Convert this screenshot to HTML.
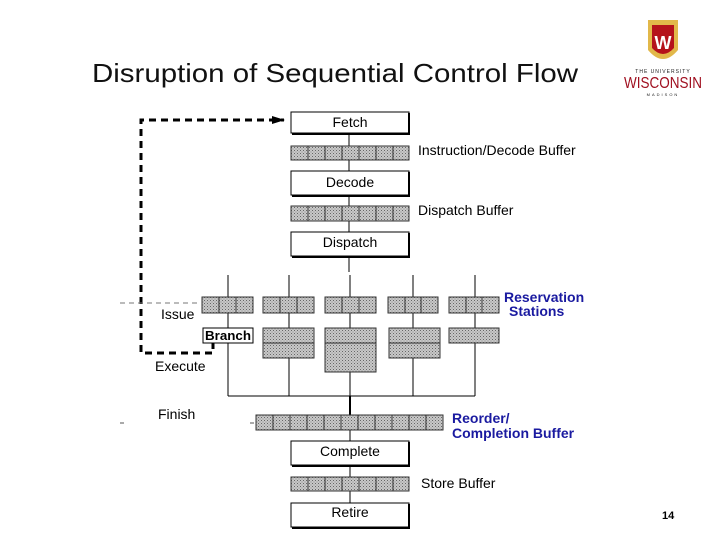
<!DOCTYPE html>
<html><head><meta charset="utf-8"><style>
body{margin:0;background:#fff;width:720px;height:540px;overflow:hidden}
svg{display:block}
text{font-family:"Liberation Sans",sans-serif}
</style></head><body>
<svg width="720" height="540" viewBox="0 0 720 540" xmlns="http://www.w3.org/2000/svg">
<defs>
<pattern id="hat" width="3" height="3" patternUnits="userSpaceOnUse">
<rect width="3" height="3" fill="#c8c8c8"/><rect width="1" height="1" fill="#666"/><rect x="1.5" y="1.5" width="1" height="1" fill="#888"/>
</pattern>
<marker id="ah" markerUnits="userSpaceOnUse" markerWidth="14" markerHeight="10" refX="12" refY="5" orient="auto"><path d="M0,1L13,5L0,9z" fill="#000"/></marker>
</defs>
<text x="92" y="82" font-size="26" textLength="486" lengthAdjust="spacingAndGlyphs" fill="#111">Disruption of Sequential Control Flow</text>

<!-- logo -->
<g>
<path d="M648,20 L678,20 L678,50 Q663,68 648,50 Z" fill="#e2b84a"/>
<path d="M652,25 L674,25 L674,48 Q663,60 652,48 Z" fill="#b5121b"/>
<text x="663" y="49" font-size="18" font-weight="bold" fill="#fff" text-anchor="middle" font-family="Liberation Serif">W</text>
<text x="663" y="73" font-size="5" fill="#222" text-anchor="middle" letter-spacing="1">THE UNIVERSITY</text>
<text x="663" y="88" font-size="16" fill="#a01020" text-anchor="middle" font-family="Liberation Serif" textLength="78" lengthAdjust="spacingAndGlyphs">WISCONSIN</text>
<text x="663" y="96" font-size="4" fill="#222" text-anchor="middle" letter-spacing="2">MADISON</text>
</g>

<!-- dashed feedback -->
<path d="M213,342 V353 H141 V120 H284" fill="none" stroke="#000" stroke-width="3" stroke-dasharray="7,5" marker-end="url(#ah)"/>
<line x1="120" y1="303" x2="200" y2="303" stroke="#777" stroke-dasharray="5,4"/>
<line x1="120" y1="423" x2="124" y2="423" stroke="#555"/>
<line x1="250" y1="423" x2="254" y2="423" stroke="#555"/>

<g stroke="#000" stroke-width="1" fill="none">
<line x1="349" y1="133" x2="349" y2="146"/>
<line x1="349" y1="160" x2="349" y2="171"/>
<line x1="349" y1="195" x2="349" y2="206"/>
<line x1="349" y1="221" x2="349" y2="232"/>
<line x1="349" y1="256" x2="349" y2="272"/>
<line x1="228" y1="275" x2="228" y2="297"/>
<line x1="289" y1="275" x2="289" y2="297"/>
<line x1="350" y1="275" x2="350" y2="297"/>
<line x1="413" y1="275" x2="413" y2="297"/>
<line x1="475" y1="275" x2="475" y2="297"/>
<line x1="228" y1="313" x2="228" y2="328"/>
<line x1="289" y1="313" x2="289" y2="328"/>
<line x1="350" y1="313" x2="350" y2="328"/>
<line x1="413" y1="313" x2="413" y2="328"/>
<line x1="475" y1="313" x2="475" y2="328"/>
<line x1="228" y1="343" x2="228" y2="396"/>
<line x1="289" y1="358" x2="289" y2="396"/>
<line x1="350" y1="372" x2="350" y2="396"/>
<line x1="413" y1="358" x2="413" y2="396"/>
<line x1="475" y1="343" x2="475" y2="396"/>
<line x1="228" y1="396" x2="475" y2="396"/>
<line x1="350" y1="396" x2="350" y2="415" stroke-width="2"/>
<line x1="350" y1="430" x2="350" y2="441"/>
<line x1="350" y1="465" x2="350" y2="477"/>
<line x1="350" y1="491" x2="350" y2="503"/>
</g>

<g stroke="#000" fill="#fff">
<rect x="291" y="112" width="118" height="21"/>
<rect x="291" y="171" width="118" height="24"/>
<rect x="291" y="232" width="118" height="24"/>
<rect x="291" y="441" width="118" height="24"/>
<rect x="291" y="503" width="118" height="24"/>
</g>
<g stroke="#000" stroke-width="2">
<path d="M409,113 V134 H292 M409,172 V196 H292 M409,233 V257 H292 M409,442 V466 H292 M409,504 V528 H292" fill="none"/>
</g>
<g font-size="14" text-anchor="middle" fill="#000">
<text x="350" y="127">Fetch</text>
<text x="350" y="187">Decode</text>
<text x="350" y="247">Dispatch</text>
<text x="350" y="456">Complete</text>
<text x="350" y="517">Retire</text>
</g>

<g stroke="#333" fill="url(#hat)">
<rect x="291" y="146" width="118" height="14"/>
<rect x="291" y="206" width="118" height="15"/>
<rect x="291" y="477" width="118" height="14"/>
<rect x="256" y="415" width="187" height="15"/>
<rect x="202" y="297" width="51" height="16"/>
<rect x="263" y="297" width="51" height="16"/>
<rect x="325" y="297" width="51" height="16"/>
<rect x="388" y="297" width="50" height="16"/>
<rect x="449" y="297" width="50" height="16"/>
<rect x="263" y="328" width="51" height="30"/>
<rect x="325" y="328" width="51" height="44"/>
<rect x="389" y="328" width="51" height="30"/>
<rect x="449" y="328" width="50" height="15"/>
</g>
<g stroke="#333">
<path d="M308,146v14M325,146v14M342,146v14M359,146v14M376,146v14M393,146v14
M308,206v15M325,206v15M342,206v15M359,206v15M376,206v15M393,206v15
M308,477v14M325,477v14M342,477v14M359,477v14M376,477v14M393,477v14
M273,415v15M290,415v15M307,415v15M324,415v15M341,415v15M358,415v15M375,415v15M392,415v15M409,415v15M426,415v15
M219,297v16M236,297v16M280,297v16M297,297v16M342,297v16M359,297v16M405,297v16M421,297v16M466,297v16M482,297v16
M263,343h51M325,343h51M389,343h51" fill="none"/>
</g>
<rect x="203" y="328" width="50" height="15" fill="#fff" stroke="#000"/>
<text x="228" y="340" font-size="13" font-weight="bold" text-anchor="middle" font-family="Liberation Serif" textLength="46" lengthAdjust="spacingAndGlyphs">Branch</text>

<g font-size="14" fill="#000">
<text x="418" y="155">Instruction/Decode Buffer</text>
<text x="418" y="215">Dispatch Buffer</text>
<text x="421" y="488">Store Buffer</text>
<text x="161" y="319">Issue</text>
<text x="155" y="371">Execute</text>
<text x="158" y="419">Finish</text>
</g>
<g font-size="14" font-weight="bold" fill="#1a1aa0">
<text x="504" y="302">Reservation</text>
<text x="509" y="316">Stations</text>
<text x="452" y="423">Reorder/</text>
<text x="452" y="438">Completion Buffer</text>
</g>
<text x="662" y="519" font-size="11" font-weight="bold" fill="#000">14</text>
</svg>
</body></html>
